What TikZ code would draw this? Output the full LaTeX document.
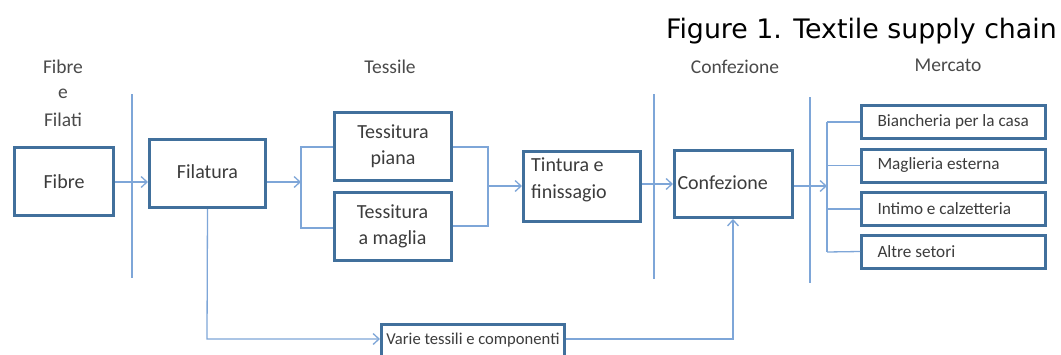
\documentclass[tikz,border=0pt]{standalone}
\usepackage{fontspec}
\setmainfont{Carlito}
\newfontfamily\titlefont{DejaVu Sans}
\usetikzlibrary{arrows.meta}
\definecolor{boxblue}{HTML}{41709C}
\definecolor{lineblue}{HTML}{7EA6D8}
\definecolor{txtgrey}{HTML}{3C3C3C}
\definecolor{hdrgrey}{HTML}{4A4A4A}
\newcommand{\mkttext}[1]{\makebox[176pt][l]{\hspace*{12pt}#1}}
\tikzset{
  x=1pt,y=-1pt,
  boxnode/.style={draw=boxblue,line width=3pt,fill=white,text=txtgrey,font=\fontsize{20}{26}\selectfont,align=center,inner sep=2pt},
  mktnode/.style={draw=boxblue,line width=3pt,fill=white,text=txtgrey,font=\fontsize{17.2}{20}\selectfont,minimum width=184,minimum height=33,inner sep=2pt},
  intext/.style={text=txtgrey,font=\fontsize{20}{27}\selectfont,align=left,inner sep=0pt},
  hdr/.style={text=hdrgrey,font=\fontsize{19.5}{26}\selectfont,align=center,inner sep=0pt},
  conn/.style={draw=lineblue,line width=1.3pt},
  arr/.style={conn,-{Straight Barb[length=6pt,width=11pt,line width=1.3pt]}},
  sep/.style={draw=lineblue,line width=1.3pt}
}
\begin{document}
\begin{tikzpicture}
\clip (0,0) rectangle (1061,354);
\fill[white] (0,0) rectangle (1061,354);
% title
\node[anchor=east,inner sep=0pt,text=black,font=\titlefont\fontsize{26.8}{30}\selectfont] (title) at (1057,31) {Figure 1. Textile supply chain};
% headers
\node[hdr] (hfib1) at (63,67) {Fibre};
\node[hdr] (hfib2) at (63,94) {e};
\node[hdr] (hfib3) at (63,120) {Filati};
\node[hdr] (htes) at (390,67) {Tessile};
\node[hdr] (hconf) at (735,67) {Confezione};
\node[hdr] (hmer) at (948,65) {Mercato};
% separators
\coordinate (v1t) at (132,94); \coordinate (v1b) at (132,278);
\coordinate (v2t) at (654,94); \coordinate (v2b) at (654,279);
\coordinate (v3t) at (810,97); \coordinate (v3b) at (810,283);
\draw[sep] (v1t) -- (v1b);
\draw[sep] (v2t) -- (v2b);
\draw[sep] (v3t) -- (v3b);
% boxes
\node[boxnode,minimum width=99,minimum height=68] (fibre) at (64,181.5) {Fibre};
\node[boxnode,minimum width=116,minimum height=68] (filatura) at (207.5,173.5) {\raisebox{3pt}{Filatura}};
\node[boxnode,minimum width=117,minimum height=68] (tp) at (393,146.5) {Tessitura\\piana};
\node[boxnode,minimum width=117,minimum height=68] (tm) at (392.5,226.5) {Tessitura\\a maglia};
\node[boxnode,minimum width=117,minimum height=70] (tint) at (582,186.5) {};
\node[intext,anchor=west] (tinttext) at (531,180) {Tintura e\\finissagio};
\node[boxnode,minimum width=118,minimum height=67,text width=112,align=left] (conf) at (733.5,184) {\raisebox{2pt}{Confezione}};
\node[mktnode] (m1) at (953.5,122) {\mkttext{Biancheria per la casa}};
\node[mktnode] (m2) at (953.5,165.5) {\mkttext{Maglieria esterna}};
\node[mktnode] (m3) at (953.5,209) {\mkttext{Intimo e calzetteria}};
\node[mktnode] (m4) at (953.5,251.5) {\mkttext{Altre setori}};
\node[boxnode,minimum width=183,minimum height=32,font=\fontsize{16.6}{18}\selectfont] (varie) at (473,340) {\raisebox{3pt}{Varie tessili e componenti}};
% Fibre -> Filatura
\coordinate (a1) at (115,182);
\draw[arr] (a1) -- (a1 -| filatura.west);
% Filatura -> split
\coordinate (s1) at (301,182);
\coordinate (s1t) at (301,147);
\coordinate (s1b) at (301,228);
\draw[arr] (s1 -| filatura.east) -- (s1);
\draw[conn] (s1t -| tp.west) -- (s1t) -- (s1b) -- (s1b -| tm.west);
% merge -> Tintura
\coordinate (s2t) at (488,147);
\coordinate (s2b) at (488,226);
\coordinate (s2) at (488,186);
\draw[conn] (s2t -| tp.east) -- (s2t) -- (s2b) -- (s2b -| tm.east);
\draw[arr] (s2) -- (s2 -| tint.west);
% Tintura -> Confezione
\coordinate (a3) at (641,184);
\draw[arr] (a3 -| tint.east) -- (a3 -| conf.west);
% Confezione -> market
\coordinate (s3) at (827,186);
\coordinate (s3t) at (827,122);
\coordinate (s3b) at (827,252);
\draw[arr] (s3 -| conf.east) -- (s3);
\draw[conn] (s3t) -- (s3b);
\draw[conn] (s3t) -- (m1.west);
\draw[conn] (827,165.5) -- (m2.west);
\draw[conn] (827,209) -- (m3.west);
\draw[conn] (s3b) -- (m4.west);
% Filatura -> Varie
\coordinate (b1) at (207,339);
\draw[arr] (filatura.south) -- (b1) -- (b1 -| varie.west);
% Varie -> Confezione
\coordinate (b2) at (733,339);
\draw[arr] (b2 -| varie.east) -- (b2) -- (conf.south -| b2);
\end{tikzpicture}
\end{document}
